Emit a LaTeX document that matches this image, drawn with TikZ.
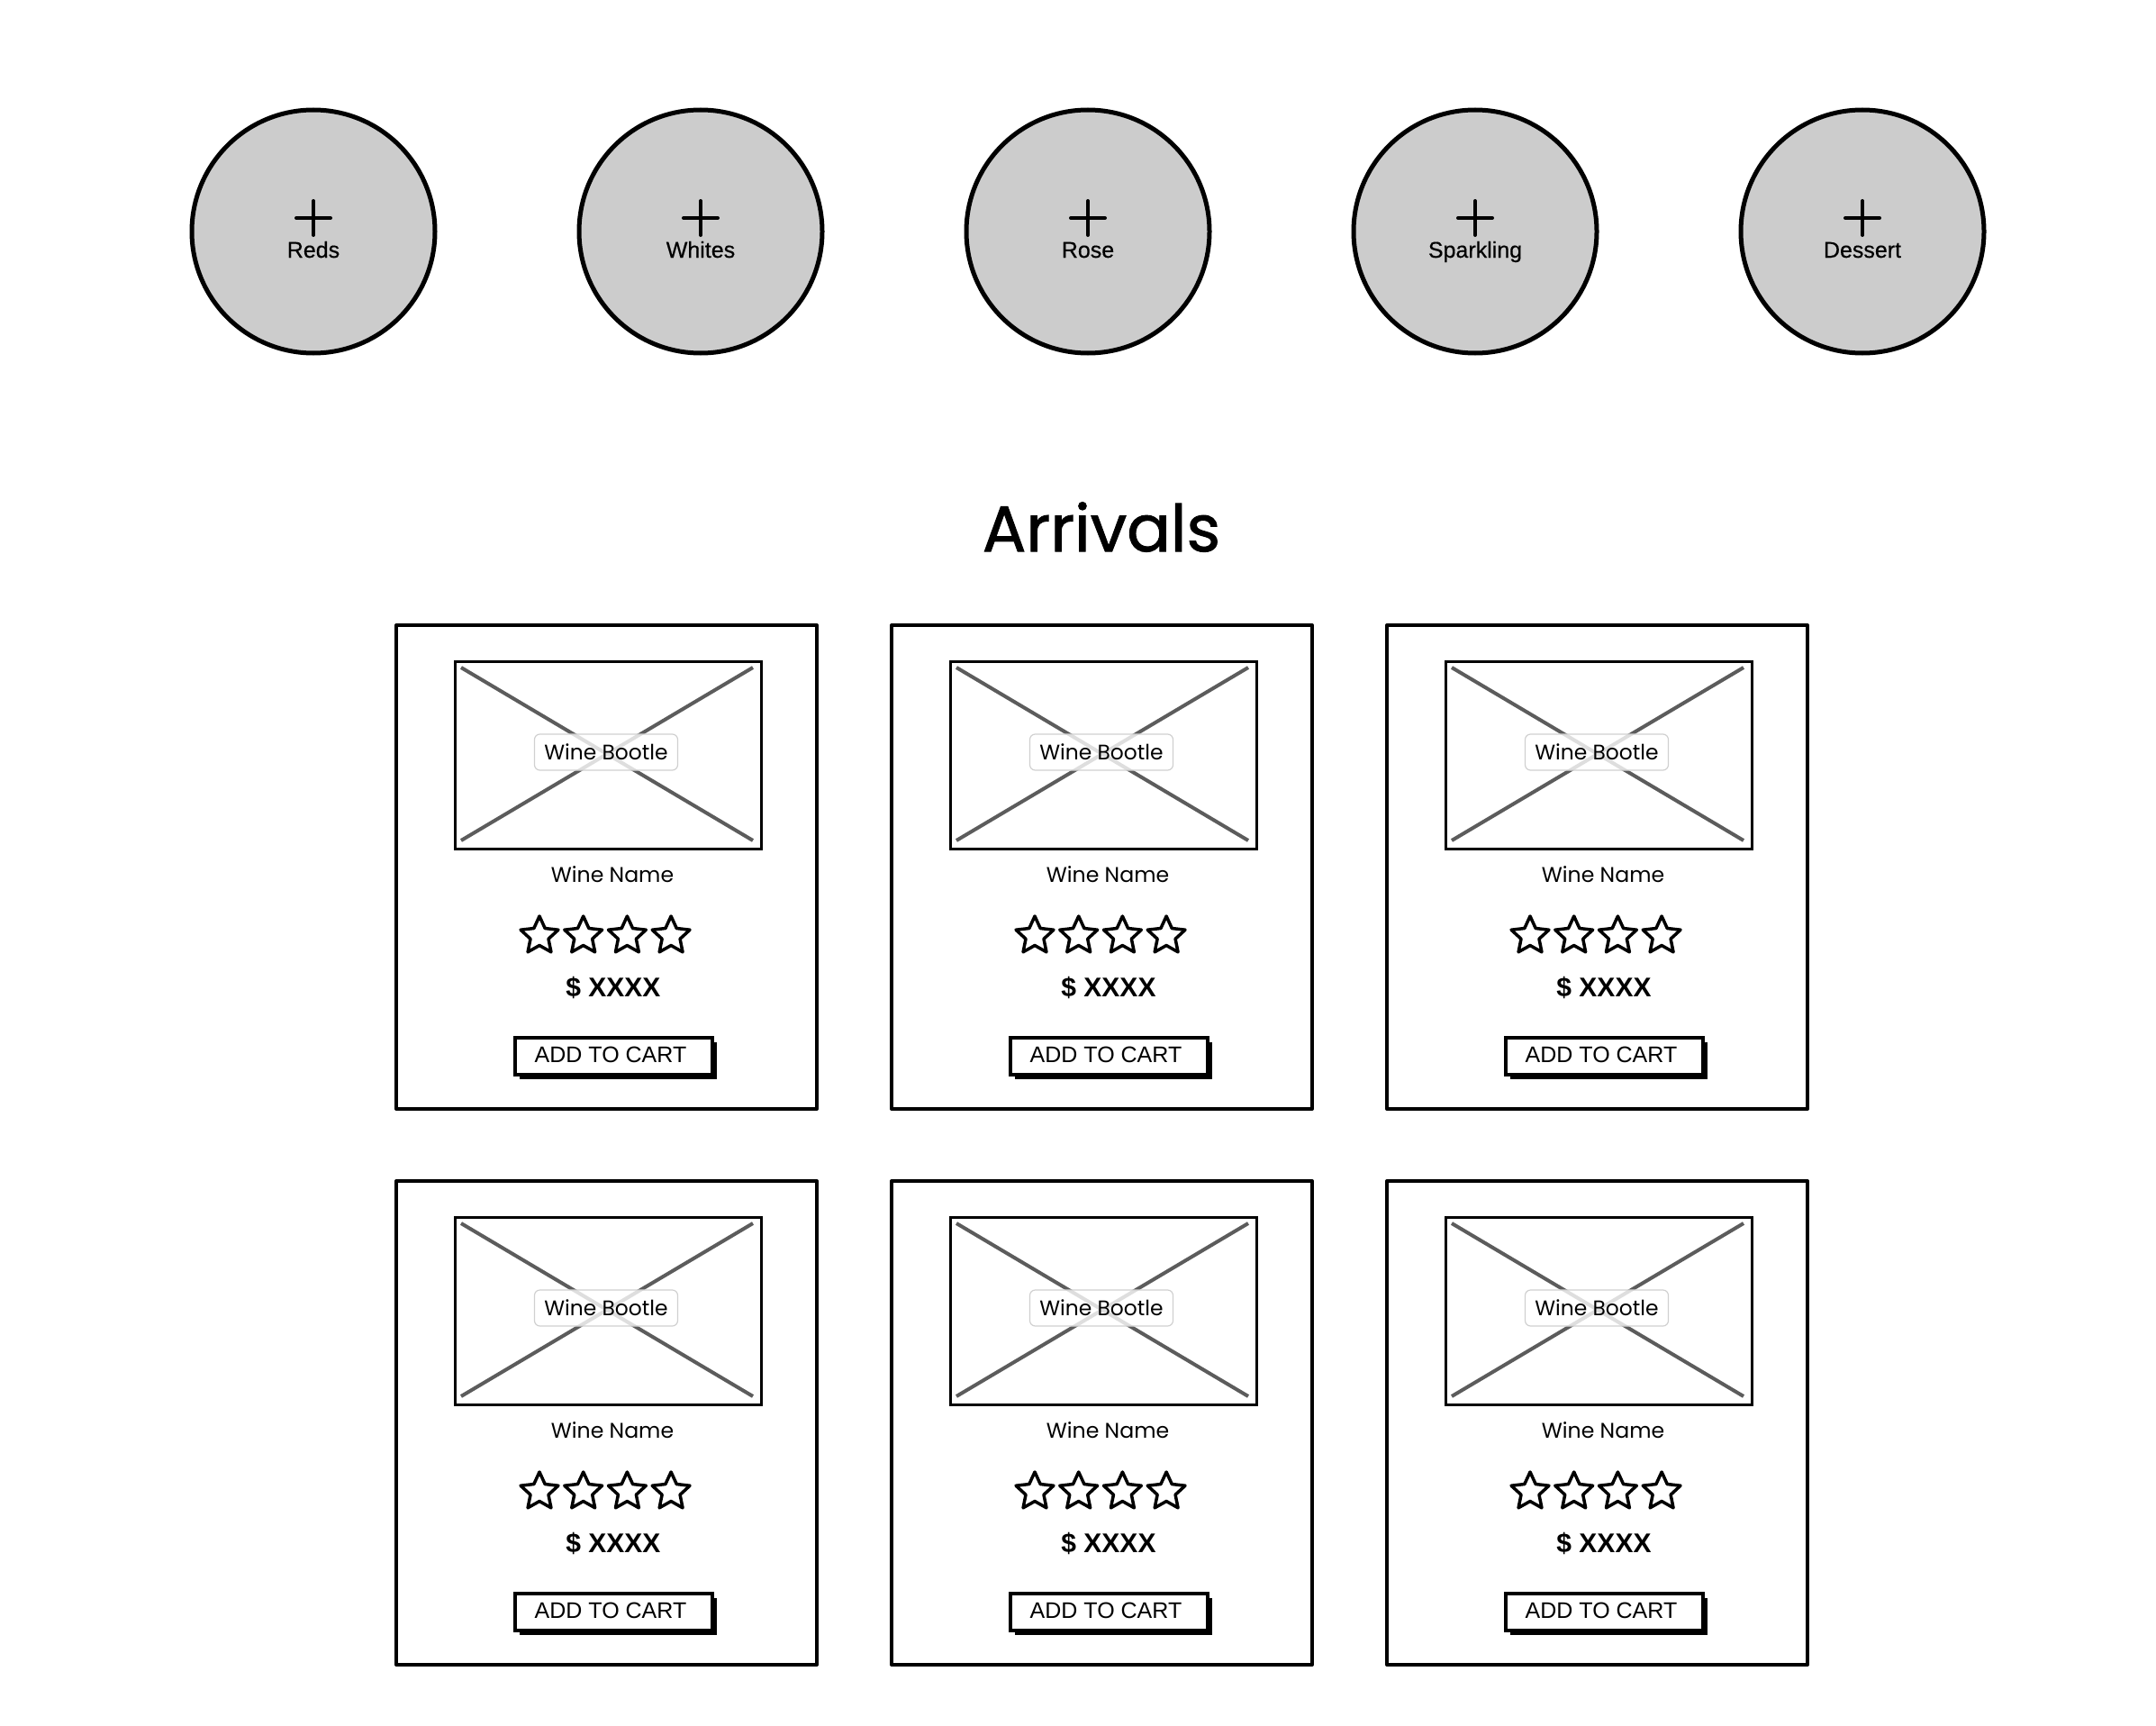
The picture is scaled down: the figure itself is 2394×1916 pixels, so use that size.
\documentclass[tikz,border=0pt]{standalone}
\usepackage{fontspec}
\setmainfont{Liberation Sans}
\newfontfamily\handfont{Poppins}
\newfontfamily\titlefont{Poppins}[FakeBold=1.2]
\newfontfamily\catfont{Liberation Sans}[FakeBold=0.4]
\definecolor{circfill}{HTML}{CCCCCC}
\definecolor{xgray}{HTML}{5C5C5C}
\definecolor{lblborder}{HTML}{D0D0D0}
\tikzset{
  catcircle/.style={circle, draw, line width=2.5pt, fill=circfill, minimum size=135pt, inner sep=0pt},
  catlabel/.style={font=\catfont\fontsize{12.5}{14}\selectfont, inner sep=0pt, anchor=base},
  plusline/.style={line width=2pt, line cap=round},
  cardbox/.style={draw, line width=2pt, minimum width=233.5pt, minimum height=268.5pt, anchor=north west, inner sep=0pt, line join=round},
  imgbox/.style={draw, line width=1.6pt, minimum width=170pt, minimum height=104pt, anchor=north west, inner sep=0pt},
  xline/.style={draw=xgray, line width=2pt},
  bottlelabel/.style={draw=lblborder, line width=0.6pt, rounded corners=3pt, fill=white, fill opacity=0.8, text opacity=1, minimum width=79.5pt, minimum height=20pt, inner sep=0pt, font=\handfont\fontsize{11.7}{13}\selectfont},
  winename/.style={font=\handfont\fontsize{11.8}{13}\selectfont, inner sep=0pt},
  price/.style={font=\bfseries\fontsize{15}{17}\selectfont, inner sep=0pt},
  btnshadow/.style={fill=black, minimum width=109.5pt, minimum height=20.5pt, anchor=north west, inner sep=0pt},
  btnbox/.style={draw, fill=white, line width=1.8pt, minimum width=109.5pt, minimum height=20.5pt, anchor=north west, inner sep=0pt},
  btntext/.style={font=\fontsize{12.5}{14}\selectfont, inner sep=0pt},
  title/.style={font=\titlefont\fontsize{36}{42}\selectfont, inner sep=0pt},
  pics/wstar/.style={code={
    \draw[line width=1.75pt, line join=round] (270:22)
      \foreach \a/\rr in {1/10.5,2/22,3/10.5,4/22,5/10.5,6/22,7/10.5,8/22,9/10.5}{ -- ({270+36*\a}:\rr) } -- cycle;
  }}
}
\begin{document}
\begin{tikzpicture}[x=0.5pt,y=-0.5pt]
\useasboundingbox (0,0) rectangle (2394,1916);
\fill[white] (0,0) rectangle (2394,1916);

% category circles
\foreach \k/\txt in {0/Reds,1/Whites,2/Rose,3/Sparkling,4/Dessert}{
  \pgfmathsetmacro\cx{348+430*\k}
  \node[catcircle] (cat-\k) at (\cx,257) {};
  \draw[plusline] ({\cx-19},242) -- ({\cx+19},242);
  \draw[plusline] (\cx,223) -- (\cx,261);
  \node[catlabel] (catlbl-\k) at (\cx,286) {\txt};
}

% title
\node[title] (arrivals) at (1223,585) {Arrivals};

% cards
\foreach \c in {0,1,2}{
  \foreach \r in {0,1}{
    \pgfmathsetmacro\X{438+550*\c}
    \pgfmathsetmacro\Y{692+617*\r}
    \node[cardbox] (card-\c-\r) at (\X,\Y) {};
    \node[imgbox] (img-\c-\r) at ({\X+66},{\Y+41}) {};
    \draw[xline] ({\X+74},{\Y+49}) -- ({\X+398},{\Y+241});
    \draw[xline] ({\X+74},{\Y+241}) -- ({\X+398},{\Y+49});
    \node[bottlelabel] (lbl-\c-\r) at ({\X+235},{\Y+143}) {Wine Bootle};
    \node[winename] (name-\c-\r) at ({\X+242},{\Y+279}) {Wine Name};
    \foreach \s in {0,1,2,3}{
      \pic (star-\c-\r-\s) at ({\X+161+48.7*\s},{\Y+347}) {wstar};
    }
    \node[price] (price-\c-\r) at ({\X+243},{\Y+404}) {\$ XXXX};
    \node[btnshadow] (btnsh-\c-\r) at ({\X+139},{\Y+465}) {};
    \node[btnbox] (btn-\c-\r) at ({\X+132},{\Y+458}) {};
    \node[btntext] (btntxt-\c-\r) at ({\X+240},{\Y+479}) {ADD TO CART};
  }
}
\end{tikzpicture}
\end{document}
